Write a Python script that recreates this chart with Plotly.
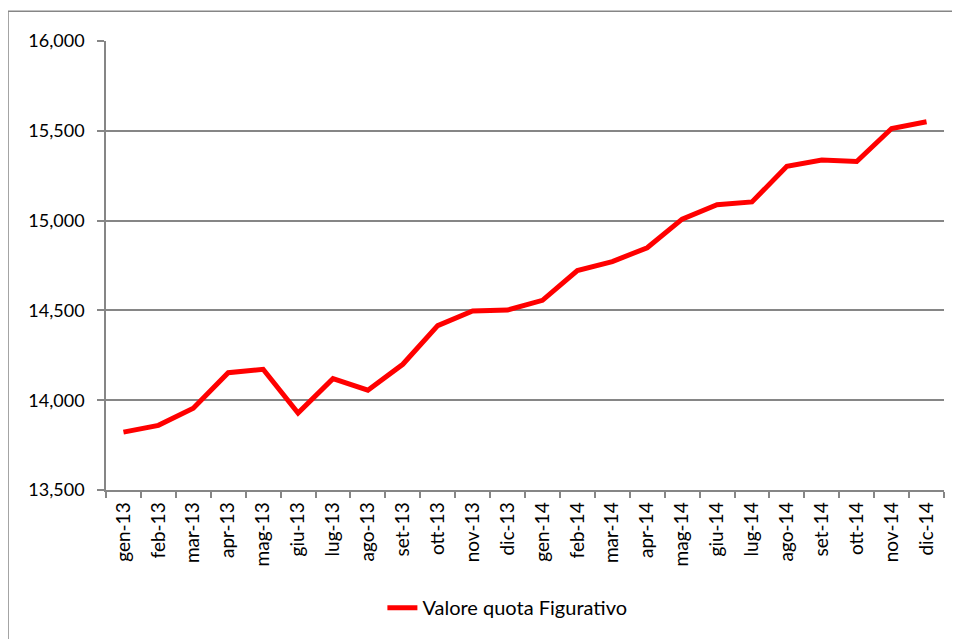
import plotly.graph_objects as go

# Monthly values
months = ["gen-13", "feb-13", "mar-13", "apr-13", "mag-13", "giu-13",
          "lug-13", "ago-13", "set-13", "ott-13", "nov-13", "dic-13",
          "gen-14", "feb-14", "mar-14", "apr-14", "mag-14", "giu-14",
          "lug-14", "ago-14", "set-14", "ott-14", "nov-14", "dic-14"]
quota = [13822, 13860, 13955, 14153, 14172, 13928,
         14120, 14056, 14200, 14415, 14497, 14502,
         14556, 14722, 14772, 14849, 15008, 15088,
         15104, 15302, 15337, 15329, 15513, 15550]
series_name = "Valore quota Figurativo"
y_ticks = [13500, 14000, 14500, 15000, 15500, 16000]

FONT = "Lato, Calibri, Arial, sans-serif"
GRID = "#868686"

fig = go.Figure()
fig.add_trace(go.Scatter(
    x=months, y=quota, mode="lines", name=series_name,
    line=dict(color="#FF0000", width=5),
))

# page body has an 8px margin, so the figure is sized/placed accordingly
fig.update_layout(
    width=952, height=631,
    margin=dict(l=98, r=16, t=33, b=146),
    paper_bgcolor="white", plot_bgcolor="white",
    font=dict(family=FONT, size=18, color="#000000"),
    showlegend=True,
    legend=dict(orientation="h", x=0.479, xanchor="center", y=-0.262, yanchor="middle",
                font=dict(family=FONT, size=20)),
    xaxis=dict(
        type="category", showgrid=False, showline=True, linecolor=GRID, linewidth=1.5,
        ticks="outside", tickson="boundaries", ticklen=6, tickcolor=GRID, tickwidth=1.5,
        tickangle=-90, tickfont=dict(family=FONT, size=19), automargin=False,
        ticklabelstandoff=3,
        range=[-0.5, len(months) - 0.5],
    ),
    yaxis=dict(
        range=[13500, 16000], tickvals=y_ticks, tickformat=",d",
        showgrid=True, gridcolor=GRID, gridwidth=1.5,
        showline=True, linecolor=GRID, linewidth=1.5,
        ticks="outside", ticklen=7, tickcolor=GRID, tickwidth=1.5,
        tickfont=dict(family=FONT, size=18), zeroline=False, automargin=False,
        ticklabelstandoff=9,
    ),
    shapes=[
        dict(type="line", xref="paper", yref="paper",
             x0=-98 / 838, x1=-98 / 838, y0=1 + 30 / 452, y1=-0.4,
             line=dict(color=GRID, width=1.5)),
        dict(type="line", xref="paper", yref="paper",
             x0=-98 / 838, x1=1.03, y0=1 + 30 / 452, y1=1 + 30 / 452,
             line=dict(color=GRID, width=1.5)),
    ],
)

fig.write_html("out.html")
